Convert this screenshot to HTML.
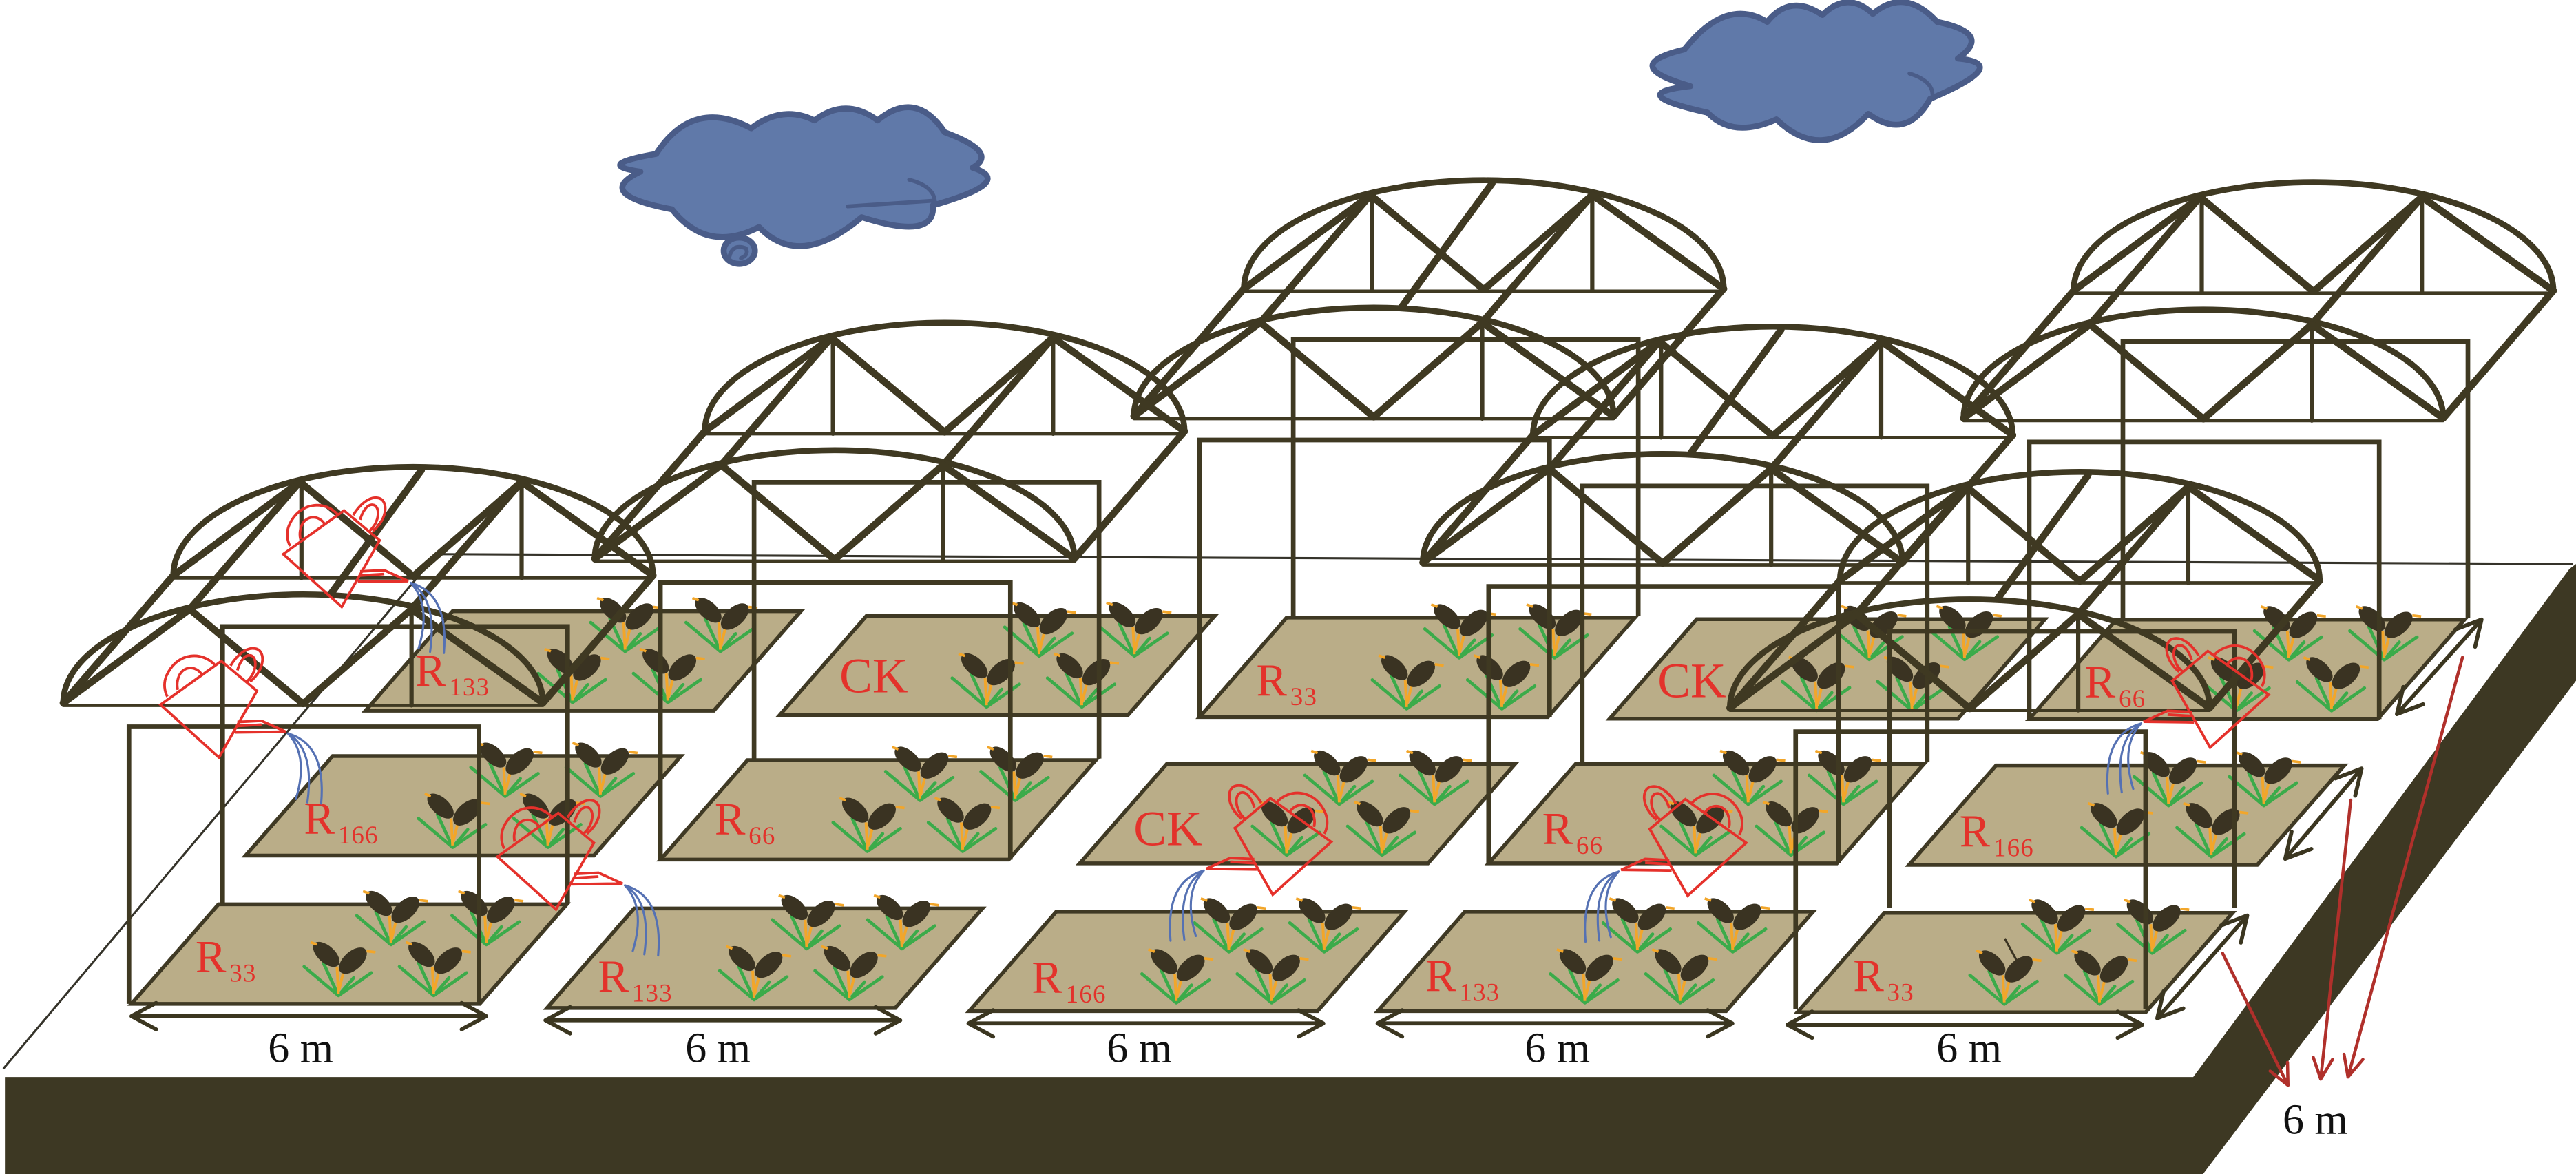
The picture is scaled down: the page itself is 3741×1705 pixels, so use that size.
<!DOCTYPE html>
<html>
<head>
<meta charset="utf-8">
<style>
html,body{margin:0;padding:0;background:#ffffff;overflow:hidden;}
svg{display:block;}
.lab{font-family:"Liberation Serif","Times New Roman",serif;fill:#e3322b;font-size:28px;}
.sub{font-size:15.5px;letter-spacing:0.5px;}
.ck{font-size:30px;}
.dim{font-family:"Liberation Serif","Times New Roman",serif;fill:#111111;font-size:26px;text-anchor:middle;}
</style>
</head>
<body>
<svg xmlns="http://www.w3.org/2000/svg" width="3741" height="1705" viewBox="0 0 1568 714" preserveAspectRatio="none">
<defs>
  <polygon id="plot" points="0,0 53,-60.5 265,-60.5 212,0" fill="#baad88" stroke="#3f3924" stroke-width="2.3" stroke-linejoin="miter"/>
  <g id="plant0">
    <path d="M0,0 L-19,-16 M0,0 L-8.4,-18.2 M0,0 L18.2,-12.6 M0,0 L8.4,-9.8" stroke="#3bab4a" stroke-width="1.8" stroke-linecap="round" fill="none"/>
    <path d="M0,-1 L-0.8,-16 M0.3,-3 L3,-14" stroke="#f2a62a" stroke-width="1.5" fill="none"/>
    <ellipse cx="-6.7" cy="-22.8" rx="8.9" ry="4.7" transform="rotate(42 -6.7 -22.8)" fill="#3a3322"/>
    <ellipse cx="8" cy="-19.3" rx="9.3" ry="5.1" transform="rotate(-42 8 -19.3)" fill="#3a3322"/>
    <path d="M-15.5,-29.5 L-12,-28.3 M15.6,-24.6 L20.5,-24" stroke="#f2a62a" stroke-width="1.4" fill="none"/>
  </g>
  <g id="plant"><use href="#plant0" transform="scale(1.1)"/></g>
  <g id="plants">
    <use href="#plant" x="158" y="-36"/>
    <use href="#plant" x="216" y="-36"/>
    <use href="#plant" x="126" y="-5"/>
    <use href="#plant" x="184" y="-5"/>
  </g>
  <g id="truss" fill="none" stroke="#3f3922" stroke-linecap="round" stroke-linejoin="round">
    <path d="M0,0 A146,66 0 0 1 292,0" stroke-width="3.6"/>
    <path d="M0,1.5 H292" stroke-width="2"/>
    <path d="M212,-57 V1.5" stroke-width="2.6"/>
    <path d="M0,0 L77,-57 L146,0.5 L212,-57 L292,0" stroke-width="4.3"/>
  </g>
  <g id="gh" fill="none" stroke="#3f3922" stroke-linecap="round" stroke-linejoin="round">
    <path d="M30,199 V31 H240 V199 M-27,260.5 V92 H186 V260.5" stroke-width="2.8" stroke-linejoin="miter" stroke-linecap="butt"/>
    <use href="#truss"/>
    <path d="M78,-57 V1.5" stroke-width="2.6"/>
    <path d="M0,0 L-67,77.5 M77,-57 L10,20.5 M212,-57 L145,20.5 M292,0 L225,77.5" stroke-width="4.3"/>
    <use href="#truss" x="-67" y="77.5"/>
  </g>
  <path id="tp" d="M151,-64 L96,11" fill="none" stroke="#3f3922" stroke-width="4.3" stroke-linecap="round"/>
  <g id="can" fill="none">
    <g stroke="#e5312b" stroke-width="1.6" stroke-linejoin="miter">
      <path d="M17.4,-24.8 L39.1,-42.9 L76.1,-16.4 L40.5,15.7 Z"/>
      <path d="M29.3,-5.9 L14.6,-6.6 L0,0 L30.7,0.4 M14.6,-4.3 L29.6,-3.4"/>
      <path d="M21.6,-30.4 C12,-38 12,-50 18.8,-50.6 C24,-51.5 30,-46 33.5,-40.1"/>
      <path d="M23.7,-30.4 C17,-36 17,-46 21.6,-46.4 C25,-47 28,-42 29.3,-37.3"/>
      <path d="M42.6,-40.1 C50,-49 66,-49 72.6,-33.8 C74.5,-29 73.5,-24 71.9,-21.3"/>
      <path d="M50.9,-34.6 C54,-40 62,-40.5 64.9,-33.8 C66,-31 66.2,-28 65.6,-25.5"/>
    </g>
    <path d="M-1.5,1.1 Q-24.8,7.6 -21.7,43.7 M-1.5,1.1 Q-17.8,10.75 -13.3,43 M-1.5,1.1 Q-14.3,14.6 -6.3,40.9" stroke="#5571b3" stroke-width="1.3" stroke-linecap="round"/>
  </g>
  <path id="arr" d="M0,0 H216 M15,-8 L0,0 L15,8 M201,-8 L216,0 L201,8" fill="none" stroke="#3b3620" stroke-width="2.4" stroke-linecap="round" stroke-linejoin="round"/>
</defs>

<!-- ground -->
<path d="M3,655 L1335,655 L1564,346 L1568,343 L1568,414 L1341,714 L3,714 Z" fill="#3d3823"/>
<path d="M2,650 L266,337 L1566,343" fill="none" stroke="#35332a" stroke-width="1.3"/>

<!-- clouds -->
<g fill="#6079a9" stroke="#4a5c88" stroke-width="3.6" stroke-linejoin="round">
  <path d="M1025.4,30 Q984.65,39.8 1028.9,52.4 Q987.45,56.95 1039.4,68.5 Q1054.85,84.45 1081.3,72.6 Q1109.35,99.5 1137.2,69.2 Q1160.35,86.15 1174.9,60.1 Q1225.3,38.75 1191.7,35.6 Q1213.4,20.35 1179.1,13.3 Q1159.45,-8.05 1140,8.4 Q1124.55,-5.95 1109.3,9.1 Q1089.7,-4.2 1075.7,13.3 Q1050.65,-2.05 1025.4,30 Z"/>
  <path d="M389.8,104.4 Q361,100.2 399.4,93.6 Q421.7,59.2 457.2,78 Q476.35,63.6 495.7,73.2 Q514.85,58.8 534.2,73.2 Q557.4,54.2 575,80.4 Q608.5,92.8 592,102 Q618.7,110.55 567.8,124.9 Q569.85,146.5 524.5,132.1 Q486.75,163.9 462,138.1 Q430.5,154.3 409,127.3 Q360.6,118.15 389.8,104.4 Z"/>
  <ellipse cx="450" cy="152.5" rx="9.5" ry="8"/>
</g>
<g fill="none" stroke="#4a5c88" stroke-width="2.4" stroke-linecap="round">
  <path d="M1162.3,44.7 Q1176,49 1176.3,57.3"/>
  <path d="M553.4,109.3 Q568,113 569,122 L516,125.5"/>
  <path d="M444,156 Q446,148 454,151 Q456,155 451,157"/>
</g>

<!-- plots row 3 (back) -->
<use href="#plot" x="222.5" y="432.2"/>
<use href="#plot" x="474.5" y="435"/>
<use href="#plot" x="730.2" y="436.1"/>
<use href="#plot" x="979.8" y="437.1"/>
<use href="#plot" x="1235.2" y="437.3"/>
<!-- row 2 -->
<use href="#plot" x="149.5" y="520.3"/>
<use href="#plot" x="402" y="522.8"/>
<use href="#plot" x="657.2" y="525.1"/>
<use href="#plot" x="906.1" y="525.1"/>
<use href="#plot" x="1162" y="526"/>
<!-- row 1 -->
<use href="#plot" x="80" y="610.5"/>
<use href="#plot" x="333" y="613"/>
<use href="#plot" x="590" y="614.9"/>
<use href="#plot" x="838.7" y="614.9"/>
<use href="#plot" x="1094" y="615.7"/>

<!-- plants -->
<use href="#plants" x="222.5" y="432.2"/>
<use href="#plants" x="474.5" y="435"/>
<use href="#plants" x="730.2" y="436.1"/>
<use href="#plants" x="979.8" y="437.1"/>
<use href="#plants" x="1235.2" y="437.3"/>
<use href="#plants" x="149.5" y="520.3"/>
<use href="#plants" x="402" y="522.8"/>
<use href="#plants" x="657.2" y="525.1"/>
<use href="#plants" x="906.1" y="525.1"/>
<use href="#plants" x="1162" y="526"/>
<use href="#plants" x="80" y="610.5"/>
<use href="#plants" x="333" y="613"/>
<use href="#plants" x="590" y="614.9"/>
<use href="#plants" x="838.7" y="614.9"/>
<use href="#plants" x="1094" y="615.7"/>
<path d="M1220.3,570.8 L1228.6,586.1" stroke="#3a3322" stroke-width="1.3"/>

<!-- greenhouses -->
<use href="#gh" x="757.2" y="175.6"/>
<use href="#tp" x="757.2" y="175.6"/>
<use href="#gh" x="1262.2" y="176.8"/>
<use href="#gh" x="429" y="262.3"/>
<use href="#gh" x="933.1" y="264.6"/>
<use href="#tp" x="933.1" y="264.6"/>
<use href="#gh" x="105.5" y="350"/>
<use href="#tp" x="105.5" y="350"/>
<use href="#gh" x="1120" y="353"/>
<use href="#tp" x="1120" y="353"/>

<!-- labels -->
<text class="lab" x="119" y="591">R<tspan class="sub" dx="2" dy="6">33</tspan></text>
<text class="lab" x="364" y="603">R<tspan class="sub" dx="2" dy="6">133</tspan></text>
<text class="lab" x="628" y="603.7">R<tspan class="sub" dx="2" dy="6">166</tspan></text>
<text class="lab" x="867.6" y="602.7">R<tspan class="sub" dx="2" dy="6">133</tspan></text>
<text class="lab" x="1128" y="602.7">R<tspan class="sub" dx="2" dy="6">33</tspan></text>

<text class="lab" x="185" y="507">R<tspan class="sub" dx="2" dy="6">166</tspan></text>
<text class="lab" x="435" y="507.4">R<tspan class="sub" dx="2" dy="6">66</tspan></text>
<text class="lab ck" x="690" y="514">CK</text>
<text class="lab" x="938.7" y="513.3">R<tspan class="sub" dx="2" dy="6">66</tspan></text>
<text class="lab" x="1192.7" y="514.7">R<tspan class="sub" dx="2" dy="6">166</tspan></text>

<text class="lab" x="252.7" y="417">R<tspan class="sub" dx="2" dy="6">133</tspan></text>
<text class="lab ck" x="511" y="421">CK</text>
<text class="lab" x="764.7" y="422.9">R<tspan class="sub" dx="2" dy="6">33</tspan></text>
<text class="lab ck" x="1009" y="424">CK</text>
<text class="lab" x="1269" y="424">R<tspan class="sub" dx="2" dy="6">66</tspan></text>

<!-- watering cans -->
<use href="#can" transform="translate(248.5,353.4) scale(-1,1)"/>
<use href="#can" transform="translate(173.8,445) scale(-1,1)"/>
<use href="#can" transform="translate(378.9,537.4) scale(-1,1)"/>
<use href="#can" transform="translate(734.2,528.4)"/>
<use href="#can" transform="translate(986.8,529)"/>
<use href="#can" transform="translate(1304.8,438.9)"/>

<!-- front dimension arrows -->
<use href="#arr" x="80" y="618"/>
<use href="#arr" x="332" y="620.5"/>
<use href="#arr" x="589.5" y="622.4"/>
<use href="#arr" x="838.5" y="622.4"/>
<use href="#arr" x="1088" y="623.2"/>

<!-- side dimension arrows -->
<g fill="none" stroke="#3b3620" stroke-width="2.4" stroke-linecap="round" stroke-linejoin="round">
  <path d="M1510.5,376.8 L1459,434.3 M1494.6,382.8 L1510.5,376.8 L1506.6,393.3 M1474.9,428.3 L1459,434.3 L1462.9,417.8"/>
  <path d="M1437.5,467.4 L1391,522.3 M1421.6,473.4 L1437.5,467.4 L1433.6,483.9 M1406.9,516.3 L1391,522.3 L1394.9,505.8"/>
  <path d="M1367.9,556.8 L1313.1,619.3 M1352,562.8 L1367.9,556.8 L1364,573.3 M1329,613.3 L1313.1,619.3 L1317,602.8"/>
</g>

<!-- red arrows -->
<g fill="none" stroke="#b0302b" stroke-width="1.9" stroke-linecap="round" stroke-linejoin="round">
  <path d="M1352.9,579.8 L1392.7,660.1 M1392.4,646.1 L1392.7,660.1 L1381.8,651.4"/>
  <path d="M1430.9,486.6 L1412.6,656.3 M1419.8,644.3 L1412.6,656.3 L1408.1,643.1"/>
  <path d="M1498.9,399.8 L1429.2,655 M1438.3,644.3 L1429.2,655 L1426.8,641.2"/>
</g>

<!-- dimension texts -->
<text class="dim" x="183" y="646">6 m</text>
<text class="dim" x="437" y="646">6 m</text>
<text class="dim" x="693.5" y="646">6 m</text>
<text class="dim" x="948" y="646">6 m</text>
<text class="dim" x="1198.6" y="646">6 m</text>
<text class="dim" x="1409.3" y="689.5">6 m</text>
</svg>
</body>
</html>
